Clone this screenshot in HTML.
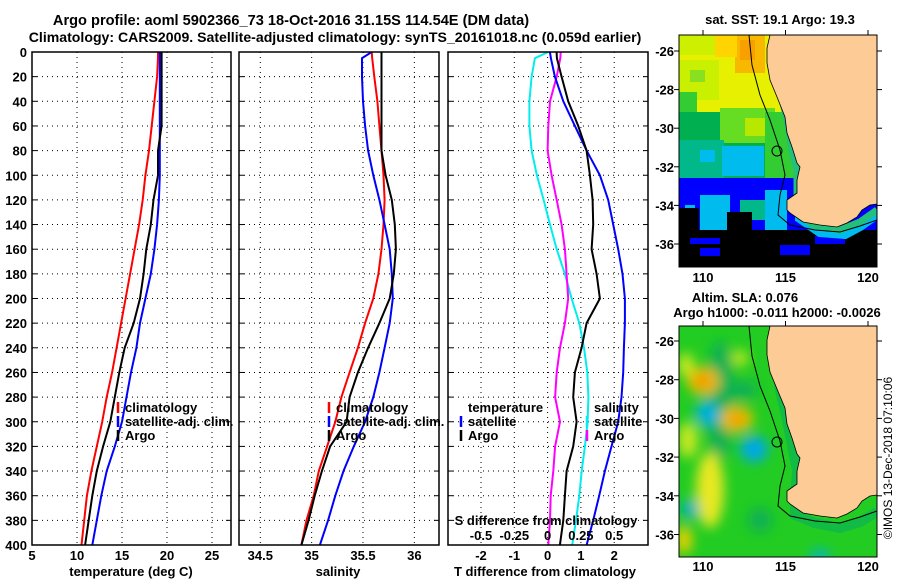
<!DOCTYPE html>
<html><head><meta charset="utf-8"><style>
html,body{margin:0;padding:0;background:#fff;}
svg{display:block;font-family:"Liberation Sans",sans-serif;}
.b{font-weight:bold;font-size:13px;}
</style></head><body>
<svg id="c" width="900" height="580" viewBox="0 0 900 580">
<defs>
<clipPath id="cp1"><rect x="32" y="52" width="199" height="493"/></clipPath>
<clipPath id="cp2"><rect x="239" y="52" width="200" height="493"/></clipPath>
<clipPath id="cp3"><rect x="448" y="52" width="200" height="493"/></clipPath>
<clipPath id="cm1"><rect x="679" y="35" width="198" height="232"/></clipPath>
<clipPath id="cm2"><rect x="679" y="326" width="198" height="231"/></clipPath>
<filter id="bl" x="-50%" y="-50%" width="200%" height="200%"><feGaussianBlur stdDeviation="6"/></filter>
</defs>
<text class="b" x="291" y="25" text-anchor="middle" style="font-size:14.6px">Argo profile: aoml 5902366_73 18-Oct-2016 31.15S 114.54E (DM data)</text>
<text class="b" x="335" y="42" text-anchor="middle" style="font-size:14.1px">Climatology: CARS2009. Satellite-adjusted climatology: synTS_20161018.nc (0.059d earlier)</text>
<g id="grid"></g>
<g id="lines"></g>
<g id="frames"></g>
<g id="labels"></g>

<!-- Top map: SST -->
<g clip-path="url(#cm1)">
<rect x="679" y="35" width="198" height="232" fill="#0000ff"/>
<rect x="679" y="35" width="198" height="80" fill="#e6f000"/>
<rect x="679" y="35" width="40" height="20" fill="#ccf000"/>
<rect x="735" y="35" width="30" height="38" fill="#f8b800"/>
<rect x="740" y="40" width="15" height="20" fill="#f8a000"/>
<rect x="715" y="35" width="22" height="22" fill="#ffd400"/>
<rect x="679" y="60" width="40" height="40" fill="#c8f000"/>
<rect x="690" y="70" width="15" height="12" fill="#88e020"/>
<rect x="679" y="92" width="18" height="22" fill="#33cc33"/>
<rect x="679" y="112" width="198" height="70" fill="#00b050"/>
<rect x="720" y="108" width="55" height="35" fill="#66dd22"/>
<rect x="745" y="118" width="20" height="18" fill="#b8e800"/>
<rect x="679" y="140" width="45" height="40" fill="#00b88a"/>
<rect x="722" y="146" width="42" height="30" fill="#00bbee"/>
<rect x="700" y="150" width="15" height="12" fill="#00bbee"/>
<rect x="765" y="112" width="30" height="70" fill="#33cc33"/>
<rect x="679" y="178" width="198" height="60" fill="#0000ff"/>
<rect x="700" y="195" width="30" height="40" fill="#00bbee"/>
<rect x="685" y="205" width="10" height="10" fill="#00bbee"/>
<rect x="740" y="200" width="25" height="20" fill="#00b88a"/>
<rect x="765" y="190" width="22" height="40" fill="#00bbee"/>
<rect x="679" y="230" width="198" height="40" fill="#000"/>
<rect x="679" y="208" width="20" height="30" fill="#000"/>
<rect x="727" y="212" width="25" height="25" fill="#000"/>
<rect x="700" y="248" width="20" height="8" fill="#0000ff"/>
<rect x="690" y="238" width="30" height="6" fill="#0000ff"/>
<rect x="780" y="245" width="30" height="10" fill="#0000ff"/>
<rect x="815" y="236" width="30" height="8" fill="#0000ff"/>
<polyline points="783,35 778,60 783,90 790,120 795,150 800,170 800,200 800,218 820,232 845,234 860,226 877,214" fill="none" stroke="#00bbee" stroke-width="10"/>
<polyline points="778,35 775,60 780,90 787,120 792,150 797,170 797,195 795,212 815,226 840,230 860,222 877,210" fill="none" stroke="#22c07a" stroke-width="7"/>
<polygon points="770,35 767,48 767,63 770,80 777,97 785,117 787,133 792,147 797,163 800,167 797,180 797,193 787,200 787,210 790,213 803,222 820,225 837,227 847,223 857,217 862,210 870,205 877,204 877,35" fill="#fdcb96"/>
<polyline points="749,35 752,65 760,95 770,120 780,150 785,175 780,195 778,215 790,225 815,230 840,232 860,226 877,220" fill="none" stroke="#000" stroke-width="1"/>
<polyline points="770,35 767,48 767,63 770,80 777,97 785,117 787,133 792,147 797,163 800,167 797,180 797,193 787,200 787,210 790,213 803,222 820,225 837,227 847,223 857,217 862,210 870,205 877,204" fill="none" stroke="#000" stroke-width="0.8"/>
<circle cx="777" cy="151" r="5" fill="none" stroke="#000" stroke-width="1"/>
</g>
<rect x="679" y="35" width="198" height="232" fill="none" stroke="#000" stroke-width="1"/>
<text class="b" x="780" y="24" text-anchor="middle">sat. SST: 19.1 Argo: 19.3</text>

<!-- Bottom map: SLA -->
<g clip-path="url(#cm2)">
<rect x="679" y="326" width="198" height="231" fill="#22cc22"/>
<g filter="url(#bl)">
<ellipse cx="720" cy="400" rx="14" ry="60" fill="#11b055"/>
<ellipse cx="703" cy="381" rx="16" ry="14" fill="#f0c000"/>
<ellipse cx="703" cy="381" rx="8" ry="7" fill="#f09000"/>
<ellipse cx="707" cy="414" rx="12" ry="12" fill="#00b0e0"/>
<ellipse cx="737" cy="419" rx="16" ry="13" fill="#f0c000"/>
<ellipse cx="737" cy="419" rx="7" ry="6" fill="#f09000"/>
<ellipse cx="754" cy="449" rx="14" ry="13" fill="#00a8e8"/>
<ellipse cx="710" cy="490" rx="14" ry="38" fill="#e8e820"/>
<ellipse cx="688" cy="440" rx="10" ry="18" fill="#c8e820"/>
<ellipse cx="690" cy="509" rx="9" ry="10" fill="#00b0c0"/>
<ellipse cx="686" cy="365" rx="8" ry="12" fill="#d0e820"/>
<ellipse cx="740" cy="358" rx="8" ry="8" fill="#c8e820"/>
<ellipse cx="684" cy="540" rx="8" ry="14" fill="#f0d000"/>
<ellipse cx="820" cy="556" rx="10" ry="6" fill="#00b0e0"/>
<ellipse cx="760" cy="520" rx="12" ry="12" fill="#11b055"/>
<ellipse cx="745" cy="390" rx="12" ry="10" fill="#11b055"/>
</g>
<polyline points="778,326 775,360 780,390 787,420 792,445 797,470 795,500 795,515 815,523 840,528 860,522 877,512" fill="none" stroke="#11bb44" stroke-width="10"/>
<polygon points="770,326 767,340 767,355 770,372 777,389 785,408 787,424 792,438 797,454 800,458 797,471 797,484 787,491 787,501 790,504 803,513 820,516 837,518 847,514 857,508 862,501 870,496 877,495 877,326" fill="#fdcb96"/>
<polyline points="749,326 752,356 760,386 770,411 780,441 785,466 780,486 778,506 790,516 815,521 840,523 860,517 877,511" fill="none" stroke="#000" stroke-width="1"/>
<polyline points="770,326 767,340 767,355 770,372 777,389 785,408 787,424 792,438 797,454 800,458 797,471 797,484 787,491 787,501 790,504 803,513 820,516 837,518 847,514 857,508 862,501 870,496 877,495" fill="none" stroke="#000" stroke-width="0.8"/>
<circle cx="777" cy="442" r="5" fill="none" stroke="#000" stroke-width="1"/>
</g>
<rect x="679" y="326" width="198" height="231" fill="none" stroke="#000" stroke-width="1"/>
<text class="b" x="745" y="302" text-anchor="middle">Altim. SLA: 0.076</text>
<text class="b" x="777" y="317" text-anchor="middle">Argo h1000: -0.011 h2000: -0.0026</text>
<text x="892" y="458" text-anchor="middle" font-size="12" transform="rotate(-90 892 458)">©IMOS 13-Dec-2018 07:10:06</text>
<g id="maplabels"></g>
</svg>
<script>
// ---- data ----
const depths = [0,5,20,40,60,80,100,120,140,160,180,200,220,240,260,280,300,320,340,360,380,400];
const tempClim = [19.0,19.0,18.9,18.6,18.3,18.0,17.6,17.3,16.9,16.4,15.9,15.4,14.9,14.4,13.9,13.3,12.8,12.2,11.6,11.1,10.8,10.5];
const tempSat  = [19.2,19.2,19.2,19.2,19.2,19.2,19.2,19.1,18.9,18.6,18.2,17.6,17.0,16.6,16.0,15.5,15.0,14.2,13.3,12.7,12.2,11.7];
const tempArgo = [19.4,19.4,19.4,19.4,19.4,19.0,19.0,18.5,18.2,17.7,17.4,17.0,16.3,15.3,14.7,14.2,13.7,12.9,12.2,11.7,11.3,10.9];
const salClim = [35.585,35.59,35.61,35.64,35.66,35.68,35.70,35.71,35.70,35.68,35.65,35.60,35.52,35.45,35.37,35.29,35.23,35.15,35.07,35.02,34.95,34.90];
const salSat  = [35.585,35.49,35.49,35.50,35.52,35.55,35.60,35.66,35.71,35.76,35.78,35.79,35.76,35.71,35.66,35.60,35.52,35.41,35.31,35.23,35.16,35.08];
const salArgo = [35.68,35.68,35.68,35.68,35.68,35.68,35.72,35.78,35.81,35.82,35.80,35.76,35.66,35.55,35.45,35.37,35.34,35.18,35.10,35.03,34.97,34.90];
const tDiffSat  = [0.07,0.1,0.22,0.47,0.82,1.17,1.57,1.82,1.97,2.12,2.25,2.32,2.32,2.29,2.27,2.22,2.12,1.92,1.72,1.55,1.37,1.17];
const tDiffArgo = [0.27,0.28,0.42,0.62,0.92,1.17,1.27,1.35,1.37,1.32,1.47,1.57,1.17,1.02,0.82,0.77,0.87,0.77,0.57,0.52,0.47,0.37];
const sDiffSat  = [0.005,-0.095,-0.12,-0.137,-0.137,-0.12,-0.08,-0.03,0.018,0.068,0.13,0.18,0.238,0.273,0.298,0.306,0.30,0.28,0.256,0.238,0.213,0.185];
const sDiffArgo = [0.098,0.095,0.068,0.018,0.005,0.0,0.03,0.068,0.105,0.13,0.143,0.155,0.13,0.093,0.068,0.056,0.093,0.056,0.043,0.023,0.018,0.005];
const depthTicks = [0,20,40,60,80,100,120,140,160,180,200,220,240,260,280,300,320,340,360,380,400];
const tempTicks = [5,10,15,20,25];
const salTicks = [34.5,35,35.5,36];
const tdTicks = [-2,-1,0,1,2];
const sdTicks = [-0.5,-0.25,0,0.25,0.5];
const sdTickLabels = ["-0.5","-0.25","0","0.25","0.5"];
const latTicks = [-26,-28,-30,-32,-34,-36];
const lonTicks = [110,115,120];

// ---- axes ----
const NS='http://www.w3.org/2000/svg';
const yD = d => 52 + d*(493/400);
const xT = v => 32 + (v-5)*9;
const xS = v => 260.3 + (v-34.5)*102.7;
const xTd = v => 547.6 + v*33.3;
const xSd = v => 547.6 + v*133.2;
const yLat1 = v => 51 + (-26 - v)*19.3;
const yLat2 = v => 341 + (-26 - v)*19.35;
const xLon = v => 703 + (v-110)*16.5;

function mk(tag, attrs, parent){const e=document.createElementNS(NS,tag);for(const k in attrs)e.setAttribute(k,attrs[k]);parent.appendChild(e);return e;}
const G=document.getElementById('grid'), L=document.getElementById('lines'), F=document.getElementById('frames'), T=document.getElementById('labels'), ML=document.getElementById('maplabels');
const panels=[{x0:32,x1:231,cp:'cp1',ticks:tempTicks,fx:xT,name:'temperature'},{x0:239,x1:439,cp:'cp2',ticks:salTicks,fx:xS,name:'salinity'},{x0:448,x1:648,cp:'cp3',ticks:tdTicks,fx:xTd,name:'difference'}];
panels.forEach(p=>{
  depthTicks.forEach(d=>{
    const l=mk('line',{x1:p.x0,x2:p.x1,y1:yD(d),y2:yD(d),stroke:'#000','stroke-width':1,'stroke-dasharray':'1,4'},G);
    
    
    mk('line',{x1:p.x0,x2:p.x0+5,y1:yD(d),y2:yD(d),stroke:'#000'},G);
    mk('line',{x1:p.x1-5,x2:p.x1,y1:yD(d),y2:yD(d),stroke:'#000'},G);
  });
  p.ticks.forEach(v=>{
    const l=mk('line',{x1:p.fx(v),x2:p.fx(v),y1:52,y2:545,stroke:'#000','stroke-width':1,'stroke-dasharray':'1,4'},G);
    
    
  });
  const r=mk('rect',{x:p.x0,y:52,width:p.x1-p.x0,height:493,fill:'none',stroke:'#000','stroke-width':1.5},F);
  
  
});
depthTicks.forEach(d=>{
  const t=mk('text',{x:27,y:yD(d)+5,'text-anchor':'end','class':'b'},T);t.textContent=d;
  
  
});
function xlab(ticks,fx,y,labels,nm){ticks.forEach((v,i)=>{const t=mk('text',{x:fx(v),y:y,'text-anchor':'middle','class':'b'},T);t.textContent=labels?labels[i]:v;
  
  });}
xlab(tempTicks,xT,560,null,'temperature-tick-label');
xlab(salTicks,xS,560,null,'salinity-tick-label');
xlab(tdTicks,xTd,560,null,'t-diff-tick-label');
xlab(sdTicks,xSd,540,sdTickLabels,'s-diff-tick-label');
function txt(x,y,s,nm,anchor){const t=mk('text',{x:x,y:y,'class':'b','text-anchor':anchor||'start'},T);t.textContent=s;
  
  return t;}
txt(131,576,'temperature (deg C)','temperature-axis-title','middle');
txt(338,576,'salinity','salinity-axis-title','middle');
txt(545,576,'T difference from climatology','t-diff-axis-title','middle');
txt(546,525,'S difference from climatology','s-diff-axis-title','middle');

function series(vals,fx,color,cp,nm,w){
  const pts=depths.map((d,i)=>fx(vals[i]).toFixed(1)+','+yD(d).toFixed(1)).join(' ');
  const pl=mk('polyline',{points:pts,fill:'none',stroke:color,'stroke-width':w||2,'clip-path':'url(#'+cp+')'},L);
  
  
}
series(tempClim,xT,'#ff0000','cp1','temperature-climatology-line');
series(tempSat,xT,'#0000ff','cp1','temperature-satellite-line');
series(tempArgo,xT,'#000000','cp1','temperature-argo-line');
series(salClim,xS,'#ff0000','cp2','salinity-climatology-line');
series(salSat,xS,'#0000ff','cp2','salinity-satellite-line');
series(salArgo,xS,'#000000','cp2','salinity-argo-line');
series(sDiffSat,xSd,'#00eeee','cp3','s-diff-satellite-line');
series(sDiffArgo,xSd,'#ff00ff','cp3','s-diff-argo-line');
series(tDiffSat,xTd,'#0000ff','cp3','t-diff-satellite-line');
series(tDiffArgo,xTd,'#000000','cp3','t-diff-argo-line');

function leg(x,y,color,label,nm){
  const m=mk('line',{x1:x,x2:x,y1:y-10,y2:y+1,stroke:color,'stroke-width':2.5},T);
  
  
  if(label) txt(x+7,y,label,nm);
}
leg(118,412,'#ff0000','climatology','legend-temp-climatology');
leg(118,426,'#0000ff','satellite-adj. clim.','legend-temp-satellite');
leg(118,440,'#000000','Argo','legend-temp-argo');
leg(329,412,'#ff0000','climatology','legend-sal-climatology');
leg(329,426,'#0000ff','satellite-adj. clim.','legend-sal-satellite');
leg(329,440,'#000000','Argo','legend-sal-argo');
txt(468,412,'temperature','legend-diff-temperature-heading');
leg(461,426,'#0000ff','satellite','legend-diff-temp-satellite');
leg(461,440,'#000000','Argo','legend-diff-temp-argo');
txt(594,412,'salinity','legend-diff-salinity-heading');
leg(587,426,'#00eeee','satellite','legend-diff-sal-satellite');
leg(587,440,'#ff00ff','Argo','legend-diff-sal-argo');

// map axes
latTicks.forEach(v=>{
  [[yLat1(v)],[yLat2(v)]].forEach(([y])=>{
    const t=mk('text',{x:674,y:y+5,'text-anchor':'end','class':'b'},ML);t.textContent=v;
    
    
    mk('line',{x1:674,x2:679,y1:y,y2:y,stroke:'#000'},ML);
    mk('line',{x1:877,x2:882,y1:y,y2:y,stroke:'#000'},ML);
  });
});
lonTicks.forEach(v=>{
  [[282],[571]].forEach(([y])=>{
    const t=mk('text',{x:xLon(v),y:y,'text-anchor':'middle','class':'b'},ML);t.textContent=v;
    
    
  });
  mk('line',{x1:xLon(v),x2:xLon(v),y1:30,y2:35,stroke:'#000'},ML);
  mk('line',{x1:xLon(v),x2:xLon(v),y1:321,y2:326,stroke:'#000'},ML);
});
</script>
</body></html>
